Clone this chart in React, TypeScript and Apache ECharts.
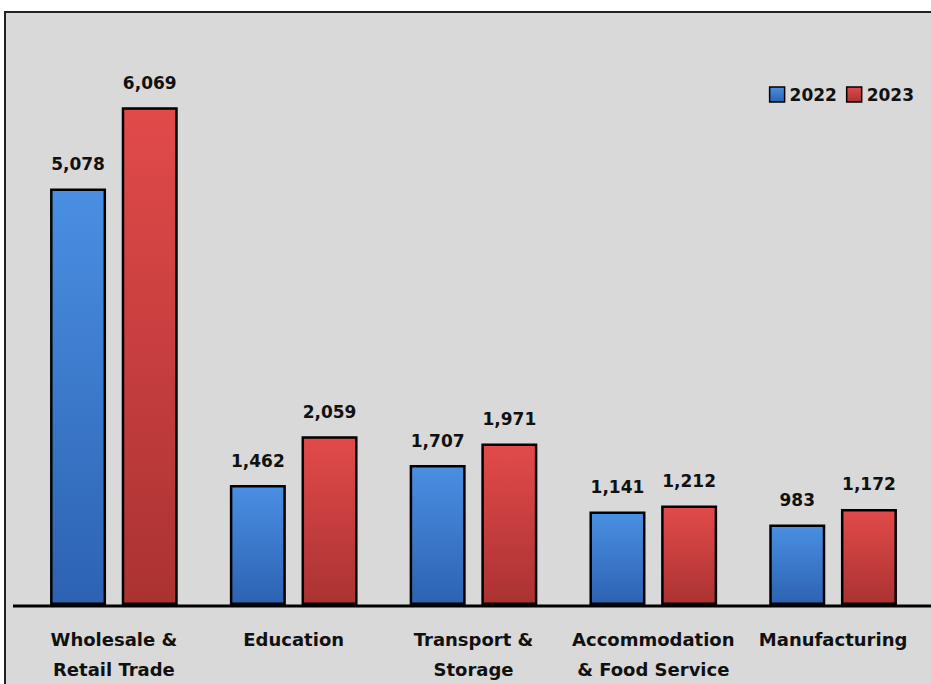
import React, { useEffect, useRef } from "react";
import * as echarts from "echarts";

const categories = [
  "Wholesale &\nRetail Trade",
  "Education",
  "Transport &\nStorage",
  "Accommodation\n& Food Service",
  "Manufacturing",
];
const seriesNames = ["2022", "2023"];
const values2022 = [5078, 1462, 1707, 1141, 983];
const values2023 = [6069, 2059, 1971, 1212, 1172];

const FONT = "'DejaVu Sans', sans-serif";

export default function App() {
  const ref = useRef<HTMLDivElement>(null);
  useEffect(() => {
    document.body.style.margin = "0";
    const chart = echarts.init(ref.current!, null, { renderer: "svg" });
    const grad = (top: string, bottom: string) =>
      new echarts.graphic.LinearGradient(0, 0, 0, 1, [
        { offset: 0, color: top },
        { offset: 1, color: bottom },
      ]);
    const label = {
      show: true,
      position: "top",
      distance: 16,
      fontFamily: FONT,
      fontWeight: "bold",
      fontSize: 17,
      color: "#111",
      formatter: (p: any) => Number(p.value).toLocaleString("en-US"),
    };
    const blue = grad("#4a8fe2", "#2d62b2");
    const red = grad("#e24a4a", "#ab3232");
    chart.setOption({
      animation: false,
      backgroundColor: "#ffffff",
      graphic: [
        {
          type: "rect",
          z: -10,
          shape: { x: 5, y: 12, width: 940, height: 700 },
          style: { fill: "#d9d9d9", stroke: "#222", lineWidth: 2 },
          silent: true,
        },
        {
          type: "line",
          z: 10,
          shape: { x1: 13, y1: 606, x2: 931, y2: 606 },
          style: { stroke: "#000", lineWidth: 3 },
          silent: true,
        },
      ],
      legend: {
        right: 12,
        top: 81,
        itemWidth: 15,
        itemHeight: 15,
        itemGap: 9,
        textStyle: { fontFamily: FONT, fontWeight: "bold", fontSize: 17, color: "#111" },
        data: [
          { name: seriesNames[0], icon: "rect", itemStyle: { color: blue, borderColor: "#000", borderWidth: 1.5 } },
          { name: seriesNames[1], icon: "rect", itemStyle: { color: red, borderColor: "#000", borderWidth: 1.5 } },
        ],
      },
      grid: { left: 24, right: 8, top: 31, bottom: 78, containLabel: false },
      xAxis: {
        type: "category",
        data: categories,
        axisLine: { show: false },
        axisTick: { show: false },
        axisLabel: {
          interval: 0,
          margin: 19,
          fontFamily: FONT,
          fontWeight: "bold",
          fontSize: 18,
          color: "#111",
          lineHeight: 30,
        },
      },
      yAxis: {
        type: "value",
        min: 0,
        max: 7000,
        show: false,
        splitLine: { show: false },
      },
      series: [
        {
          name: seriesNames[0],
          type: "bar",
          data: values2022,
          barWidth: 56,
          barGap: "28%",
          itemStyle: { color: blue, borderColor: "#000", borderWidth: 2.5 },
          label,
        },
        {
          name: seriesNames[1],
          type: "bar",
          data: values2023,
          barWidth: 56,
          itemStyle: { color: red, borderColor: "#000", borderWidth: 2.5 },
          label,
        },
      ],
    });
    return () => chart.dispose();
  }, []);
  return <div ref={ref} style={{ width: 931, height: 684 }} />;
}
